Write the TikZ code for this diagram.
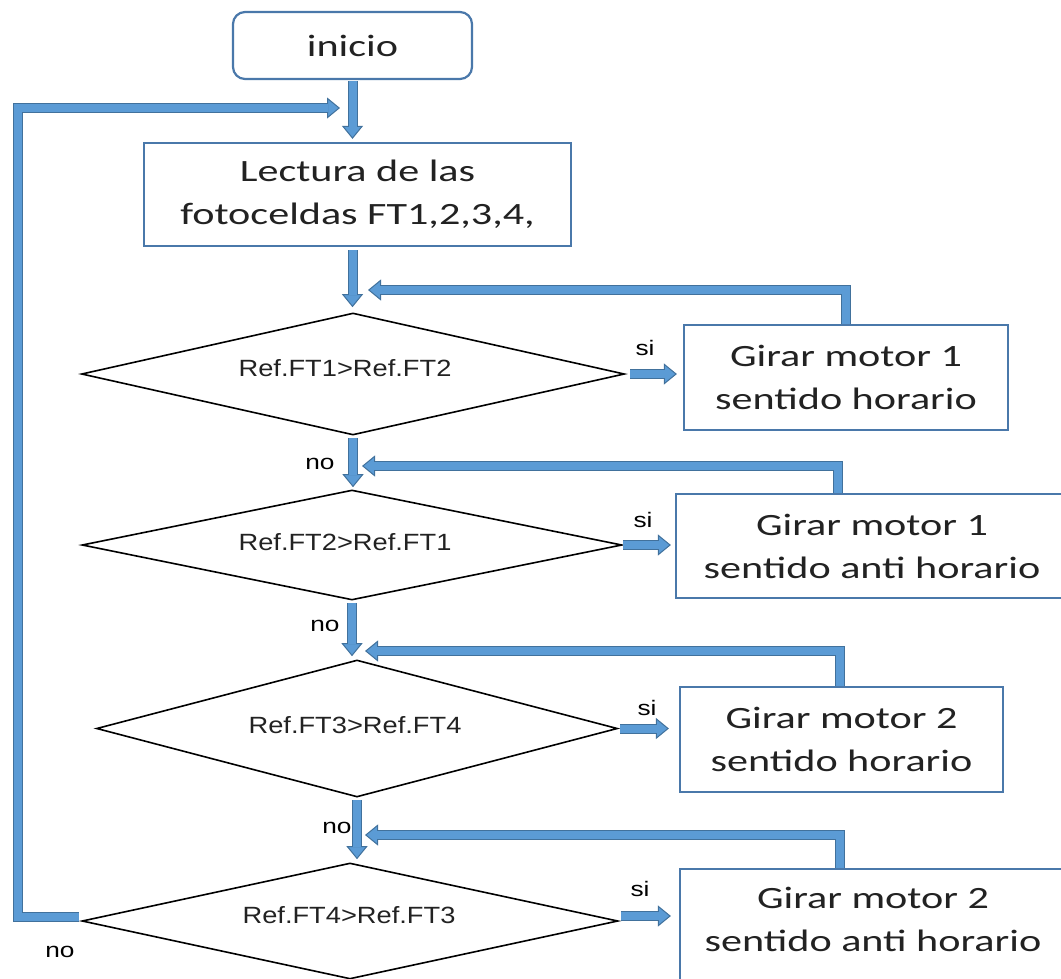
\documentclass[tikz,border=0pt]{standalone}
\usepackage{fontspec}
\setmainfont{Carlito}
\newfontfamily\arialf{Liberation Sans}
\usepackage{graphicx}
\usetikzlibrary{arrows.meta,shapes.geometric,calc}
\definecolor{afl}{HTML}{5B9BD5}
\definecolor{abd}{HTML}{41719C}
\definecolor{bxd}{HTML}{4A78AA}
\definecolor{txt}{HTML}{222222}
\newcommand\hsA[1]{\scalebox{1.36}[1]{#1}}
\newcommand\hsB[1]{\scalebox{1.16}[1]{#1}}
\newcommand\hsC[1]{\scalebox{1.25}[1]{#1}}
\begin{document}
\begin{tikzpicture}[x=1pt,y=-1pt,
 box/.style={draw=bxd, line width=2.2pt, fill=white, inner sep=0pt, align=center, text=txt, font=\fontsize{31}{43}\selectfont},
 btxt/.style={inner sep=0pt, align=center, text=txt, font=\fontsize{31}{43}\selectfont},
 dia/.style={diamond, draw=black, line width=1.6pt, inner sep=0pt},
 dtxt/.style={font=\arialf\fontsize{23.5}{28}\selectfont, text=txt, inner sep=0pt},
 lbl/.style={font=\arialf\fontsize{21}{25}\selectfont, text=black, inner sep=0pt},
 blk/.style={draw=abd, line width=10pt, -{Triangle[width=21pt,length=13pt,line width=1pt,color=abd,fill=afl]}, postaction={draw=afl, line width=8pt, arrows=-, shorten >=12pt}},
 ]
\useasboundingbox (0,0) rectangle (1061,978);
\clip (0,0) rectangle (1061,978);

% boxes
\node[box, rounded corners=12pt, minimum width=239pt, minimum height=67pt] (ini) at (352.5,45.5) {\hsA{inicio}};
\node[box, minimum width=427pt, minimum height=103pt] (lec) at (357.5,194.5) {\hsA{Lectura de las}\\\hsA{fotoceldas FT1,2,3,4,}};

\node[dia, minimum width=543pt, minimum height=122pt] (d1) at (353,374) {};
\node[dtxt] (t1) at (345,368) {\hsB{Ref.FT1>Ref.FT2}};
\node[dia, minimum width=540pt, minimum height=110pt] (d2) at (352,545) {};
\node[dtxt] (t2) at (345,542) {\hsB{Ref.FT2>Ref.FT1}};
\node[dia, minimum width=521pt, minimum height=137pt] (d3) at (357,728.5) {};
\node[dtxt] (t3) at (355,725) {\hsB{Ref.FT3>Ref.FT4}};
\node[dia, minimum width=536pt, minimum height=116pt] (d4) at (350,921) {};
\node[dtxt] (t4) at (349,915) {\hsB{Ref.FT4>Ref.FT3}};

\node[box, minimum width=324pt, minimum height=105pt] (b1) at (846,377.5) {\hsA{Girar motor 1}\\\hsA{sentido horario}};
\node[box, minimum width=392pt, minimum height=104pt] (b2) at (872,546) {\hsA{Girar motor 1}\\\hsA{sentido anti horario}};
\node[box, minimum width=323pt, minimum height=105pt] (b3) at (841.5,739.5) {\hsA{Girar motor 2}\\\hsA{sentido horario}};
\node[box, minimum width=386pt, minimum height=114pt] (b4) at (873,926) {};
\node[btxt] (b4t) at (873,919) {\hsA{Girar motor 2}\\\hsA{sentido anti horario}};

% coordinates for free ends
\coordinate (f1) at (368,290);
\coordinate (f2) at (362,466);
\coordinate (f3) at (365,651);
\coordinate (f4) at (365,835);
\coordinate (lp) at (18,108);
\coordinate (le) at (340,108);

% main flow
\draw[blk, shorten <=1pt] (ini.south) -- ([yshift=3pt]ini.south |- lec.north);
\draw[blk, shorten <=3pt] (ini.south |- lec.south) -- ([yshift=5pt]ini.south |- d1.north);
\draw[blk, shorten <=2pt] (d1.south) -- ([yshift=2pt]d1.south |- d2.north);
\draw[blk, shorten <=2pt] (d2.south) -- ([yshift=3pt]d2.south |- d3.north);
\draw[blk, shorten <=2pt] (d3.south) -- ([yshift=3pt]d3.south |- d4.north);

% si arrows
\draw[blk, shorten <=5pt] (d1.east) -- ($(d1.east -| b1.west)+(-6,0)$);
\draw[blk, shorten <=0pt] (d2.east) -- ($(d2.east -| b2.west)+(-4,0)$);
\draw[blk, shorten <=2pt] (d3.east) -- ($(d3.east -| b3.west)+(-10,0)$);
\draw[blk, shorten <=2pt] ([yshift=5pt]d4.east) -- ($([yshift=5pt]d4.east -| b4.west)+(-8,0)$);

% feedback
\draw[blk] (b1.north) |- (f1);
\draw[blk] ([xshift=-34pt]b2.north) |- (f2);
\draw[blk] ([xshift=-1.5pt]b3.north) |- (f3);
\draw[blk] ([xshift=-33pt]b4.north) |- (f4);

% loop back
\draw[blk, shorten <=2pt] ([yshift=4pt]d4.west) -| (lp) -- (le);

% labels
\node[lbl] (s1) at (645,348) {\hsC{si}};
\node[lbl] (s2) at (643,520) {\hsC{si}};
\node[lbl] (s3) at (647,708) {\hsC{si}};
\node[lbl] (s4) at (640,889) {\hsC{si}};
\node[lbl] (n1) at (320,464) {\hsC{no}};
\node[lbl] (n2) at (325,626) {\hsC{no}};
\node[lbl] (n3) at (337,828) {\hsC{no}};
\node[lbl] (n4) at (60,952) {\hsC{no}};
\end{tikzpicture}
\end{document}
